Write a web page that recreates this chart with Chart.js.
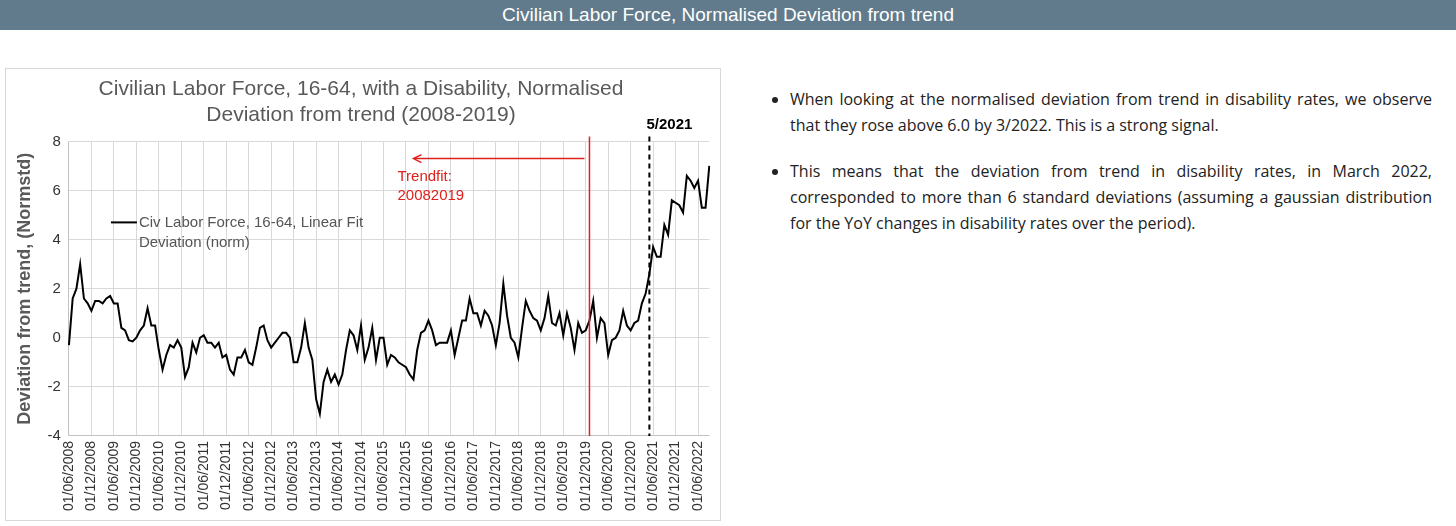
<!DOCTYPE html>
<html><head><meta charset="utf-8">
<script src="https://cdn.jsdelivr.net/npm/chart.js@4"></script>
<style>
body{margin:0;background:#fff;font-family:"Liberation Sans",Arial,sans-serif;width:1456px;height:526px;overflow:hidden;position:relative}
#hdr{position:absolute;left:0;top:0;width:1456px;height:30px;background:#617b8c;color:#fff;text-align:center;font-size:19px;line-height:30px}
#box{position:absolute;left:5px;top:68px;width:714px;height:451px;border:1px solid #d8d8d8}
#txt{position:absolute;left:770px;top:86px;width:662px;font-family:"Open Sans",sans-serif;font-size:16px;line-height:26px;color:#222;text-align:justify}
#txt ul{margin:0;padding-left:20px}#txt li{margin-bottom:20px}
</style></head><body>
<div id="hdr">Civilian Labor Force, Normalised Deviation from trend</div>
<div id="box"><canvas id="c" width="714" height="451"></canvas></div>
<div id="txt"><ul>
<li>When looking at the normalised deviation from trend in disability rates, we observe that they rose above 6.0 by 3/2022. This is a strong signal.</li>
<li>This means that the deviation from trend in disability rates, in March 2022, corresponded to more than 6 standard deviations (assuming a gaussian distribution for the YoY changes in disability rates over the period).</li>
</ul></div>
<script>
const values = [-0.3,1.6,2.0,3.0,1.6,1.4,1.1,1.5,1.5,1.4,1.6,1.7,1.4,1.4,0.4,0.3,-0.1,-0.15,0.0,0.3,0.5,1.2,0.5,0.5,-0.5,-1.3,-0.7,-0.3,-0.4,-0.1,-0.4,-1.6,-1.2,-0.2,-0.6,0.0,0.1,-0.2,-0.2,-0.4,-0.2,-0.8,-0.7,-1.3,-1.5,-0.8,-0.8,-0.5,-1.0,-1.1,-0.4,0.4,0.5,-0.1,-0.4,-0.2,0.0,0.2,0.2,0.0,-1.0,-1.0,-0.4,0.6,-0.4,-0.9,-2.5,-3.1,-1.8,-1.3,-1.8,-1.5,-1.9,-1.5,-0.5,0.3,0.1,-0.5,0.5,-0.9,-0.4,0.4,-0.9,0.0,0.0,-1.1,-0.7,-0.8,-1.0,-1.1,-1.2,-1.5,-1.7,-0.5,0.2,0.3,0.7,0.3,-0.3,-0.2,-0.2,-0.2,0.3,-0.7,0.0,0.7,0.7,1.6,1.0,1.0,0.5,1.1,0.9,0.5,-0.3,0.6,2.2,0.9,0.0,-0.2,-0.8,0.4,1.5,1.1,0.8,0.7,0.3,0.8,1.7,0.6,0.5,1.0,0.1,1.0,0.4,-0.5,0.6,0.2,0.3,0.7,1.5,0.0,0.8,0.6,-0.7,-0.1,0.0,0.3,1.1,0.5,0.3,0.6,0.7,1.4,1.8,2.6,3.7,3.3,3.3,4.6,4.2,5.6,5.5,5.4,5.1,6.6,6.4,6.1,6.4,5.3,5.3,7.0];
const startYear = 2008, startMonth = 6;
const yTicks = [-4,-2,0,2,4,6,8];
const trendLabel = '01/01/2020';
const markLabel = '01/05/2021';
const labels = values.map((v, i) => {
  const m = (startMonth - 1 + i) % 12 + 1, y = startYear + Math.floor((startMonth - 1 + i) / 12);
  return '01/' + String(m).padStart(2, '0') + '/' + y;
});
const annot = {
  id: 'annot',
  afterDatasetsDraw(ch) {
    const c = ch.ctx, x = ch.scales.x, y = ch.scales.y, a = ch.chartArea;
    c.save();
    const rx = x.getPixelForValue(labels.indexOf(trendLabel));
    c.strokeStyle = '#e0201c'; c.lineWidth = 1.5;
    c.beginPath(); c.moveTo(rx, a.top - 5); c.lineTo(rx, a.bottom); c.stroke();
    const ay = y.getPixelForValue(7.3);
    c.beginPath(); c.moveTo(rx - 5, ay); c.lineTo(rx - 175, ay); c.stroke();
    c.beginPath(); c.moveTo(rx - 168, ay - 4); c.lineTo(rx - 176, ay); c.lineTo(rx - 168, ay + 4); c.stroke();
    c.fillStyle = '#e0201c'; c.font = '15px "Liberation Sans"';
    c.fillText('Trendfit:', rx - 192, ay + 22); c.fillText('20082019', rx - 192, ay + 41);
    const dx = x.getPixelForValue(labels.indexOf(markLabel));
    c.strokeStyle = '#000'; c.lineWidth = 2; c.setLineDash([5, 4]);
    c.beginPath(); c.moveTo(dx, a.top - 5); c.lineTo(dx, a.bottom); c.stroke();
    c.setLineDash([]);
    c.fillStyle = '#000'; c.font = 'bold 15px "Liberation Sans"'; c.textAlign = 'center';
    c.fillText('5/2021', dx + 20, a.top - 12);
    c.textAlign = 'left'; c.lineWidth = 2;
    const ly = y.getPixelForValue(4.7);
    c.beginPath(); c.moveTo(a.left + 42, ly); c.lineTo(a.left + 68, ly); c.stroke();
    c.fillStyle = '#555'; c.font = '15px "Liberation Sans"';
    c.fillText('Civ Labor Force, 16-64, Linear Fit', a.left + 70, ly + 5);
    c.fillText('Deviation (norm)', a.left + 70, ly + 25);
    c.restore();
  }
};
new Chart(document.getElementById('c'), {
  type: 'line',
  data: { labels: labels, datasets: [{ data: values, borderColor: '#000', borderWidth: 2, pointRadius: 0, tension: 0 }] },
  options: {
    responsive: false, animation: false,
    layout: { padding: { top: 0, right: 8, left: 4, bottom: 4 } },
    plugins: {
      legend: { display: false },
      title: { display: true, text: ['Civilian Labor Force, 16-64, with a Disability, Normalised', 'Deviation from trend (2008-2019)'],
        color: '#595959', font: { size: 21, family: 'Liberation Sans', weight: 'normal' }, padding: { top: 8, bottom: 14 } }
    },
    scales: {
      x: {
        grid: { color: '#d9d9d9', drawTicks: false },
        ticks: { color: '#333', font: { size: 14, family: 'Liberation Sans' }, maxRotation: 90, minRotation: 90, autoSkip: false, padding: 5,
          callback: (v, i) => (labels[i].slice(3, 5) === '06' || labels[i].slice(3, 5) === '12') ? labels[i] : null }
      },
      y: {
        min: -4, max: 8,
        afterBuildTicks: s => { s.ticks = yTicks.map(v => ({ value: v })); },
        grid: { color: '#d9d9d9', drawTicks: false },
        ticks: { color: '#333', font: { size: 15, family: 'Liberation Sans' }, padding: 8 },
        title: { display: true, text: 'Deviation from trend, (Normstd)', color: '#595959', font: { size: 18, weight: 'bold', family: 'Liberation Sans' } }
      }
    }
  },
  plugins: [annot]
});
</script></body></html>
